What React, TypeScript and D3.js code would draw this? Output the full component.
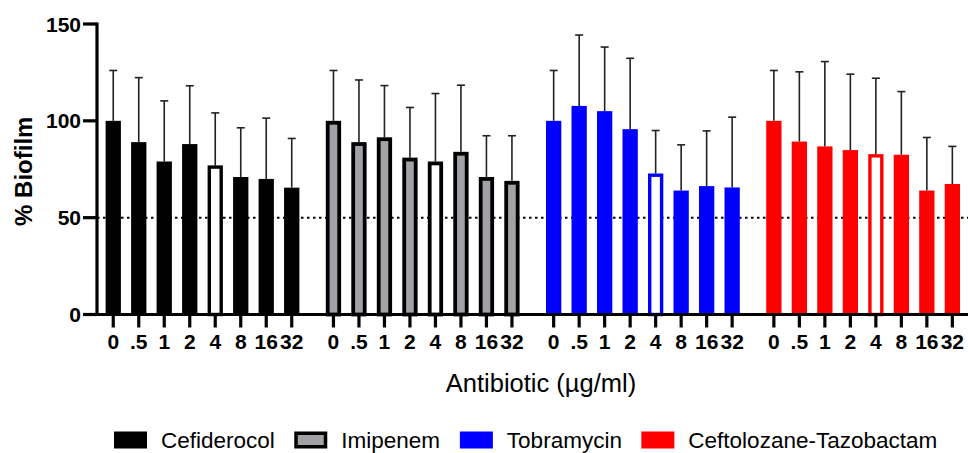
import * as d3 from "d3";
import React, { useMemo } from "react";

const drugs = ["Cefiderocol", "Imipenem", "Tobramycin", "Ceftolozane-Tazobactam"];
const concentrations = ["0", ".5", "1", "2", "4", "8", "16", "32"];

// mean % biofilm per concentration, one list per drug
const cefiderocolMean = [100, 89, 79, 88, 77, 71, 70, 65.5];
const imipenemMean = [100, 89, 91.5, 81, 79, 84, 71, 69];
const tobramycinMean = [100, 107.7, 105, 95.7, 72.8, 64, 66.3, 65.6];
const ceftolozaneMean = [100, 89.3, 86.8, 84.9, 82.8, 82.5, 64, 67.4];

// standard deviation (upper error bar only)
const cefiderocolSd = [26, 33.3, 31.3, 30.1, 27.1, 25.4, 31.4, 25.4];
const imipenemSd = [26, 32.1, 26.7, 25.9, 35.1, 34.4, 21.3, 23.3];
const tobramycinSd = [26, 36.6, 33.1, 36.6, 22.2, 23.6, 28.5, 36.3];
const ceftolozaneSd = [26, 36, 43.8, 39.2, 39.2, 32.6, 27.4, 19.4];

const fills = ["#000000", "#a2a2a6", "#0000ff", "#ff0000"];
const borders = ["#000000", "#000000", "#0000ff", "#ff0000"];
const hollowConc = "4";

const yTicks = [0, 50, 100, 150];
const refLine = 50;

const W = 968;
const H = 453;
const FONT = "'Liberation Sans', Arial, Helvetica, sans-serif";

const means = [cefiderocolMean, imipenemMean, tobramycinMean, ceftolozaneMean];
const sds = [cefiderocolSd, imipenemSd, tobramycinSd, ceftolozaneSd];

function textWidth(text: string, font: string) {
  const ctx = document.createElement("canvas").getContext("2d");
  if (!ctx) return text.length * 11;
  ctx.font = font;
  return ctx.measureText(text).width;
}

export default function App() {
  const x0 = 97;
  const y0 = 314.5;

  const y = d3.scaleLinear().domain([0, 150]).range([y0, 24]);

  const groupX = d3
    .scaleBand<string>()
    .domain(drugs)
    .range([105.6, 960])
    .paddingInner(0.12)
    .paddingOuter(0);

  const barX = d3
    .scaleBand<string>()
    .domain(concentrations)
    .range([0, groupX.bandwidth()])
    .paddingInner(0.4)
    .paddingOuter(0);

  const bars = useMemo(
    () =>
      drugs.flatMap((drug, di) =>
        concentrations.map((c, ci) => ({
          drug,
          di,
          c,
          mean: means[di][ci],
          sd: sds[di][ci],
          x: (groupX(drug) ?? 0) + (barX(c) ?? 0),
        }))
      ),
    []
  );

  const bw = barX.bandwidth();

  // legend layout
  const legendFont = `22px ${FONT}`;
  const legendItems = useMemo(() => {
    let cx = 114;
    return drugs.map((d, i) => {
      const item = { d, i, x: cx };
      cx += 33 + 14 + textWidth(d, legendFont) + 22;
      return item;
    });
  }, []);

  return (
    <svg
      width={W}
      height={H}
      style={{ position: "absolute", left: 0, top: 0, background: "#fff" }}
      fontFamily={FONT}
    >
      {/* reference line */}
      <line
        x1={x0}
        x2={W}
        y1={y(refLine)}
        y2={y(refLine)}
        stroke="#000"
        strokeWidth={2}
        strokeDasharray="2.5 3.5"
      />

      {/* error bars */}
      {bars.map((b) => {
        const cx = b.x + bw / 2;
        return (
          <g key={`e-${b.drug}-${b.c}`} stroke="#222" strokeWidth={1.6}>
            <line x1={cx} x2={cx} y1={y(b.mean)} y2={y(b.mean + b.sd)} />
            <line x1={cx - 4} x2={cx + 4} y1={y(b.mean + b.sd)} y2={y(b.mean + b.sd)} />
          </g>
        );
      })}

      {/* bars */}
      {bars.map((b) => {
        const hollow = b.c === hollowConc;
        const outlined = hollow || b.di === 1;
        const sw = b.di === 1 ? 3.8 : 3.4;
        if (!outlined) {
          return (
            <rect
              key={`b-${b.drug}-${b.c}`}
              x={b.x}
              y={y(b.mean)}
              width={bw}
              height={y0 - y(b.mean)}
              fill={fills[b.di]}
            />
          );
        }
        return (
          <rect
            key={`b-${b.drug}-${b.c}`}
            x={b.x + sw / 2}
            y={y(b.mean) + sw / 2}
            width={bw - sw}
            height={y0 - y(b.mean) - sw / 2}
            fill={hollow ? "#fff" : fills[b.di]}
            stroke={borders[b.di]}
            strokeWidth={sw}
          />
        );
      })}

      {/* y axis */}
      <line x1={x0} x2={x0} y1={y(150) - 1.5} y2={y0 + 1.5} stroke="#000" strokeWidth={3.2} />
      {yTicks.map((t) => (
        <g key={`yt-${t}`}>
          <line x1={x0 - 14} x2={x0} y1={y(t)} y2={y(t)} stroke="#000" strokeWidth={3.2} />
          <text
            x={x0 - 16}
            y={y(t)}
            dy="0.36em"
            textAnchor="end"
            fontSize={21}
            fontWeight="bold"
          >
            {t}
          </text>
        </g>
      ))}
      <text
        transform={`translate(32, ${(y(150) + y0) / 2 + 2}) rotate(-90)`}
        textAnchor="middle"
        fontSize={24}
        fontWeight="bold"
      >
        % Biofilm
      </text>

      {/* x axis */}
      <line x1={x0 - 1.5} x2={W} y1={y0} y2={y0} stroke="#000" strokeWidth={3.2} />
      {bars.map((b) => {
        const cx = b.x + bw / 2;
        return (
          <g key={`xt-${b.drug}-${b.c}`}>
            <line x1={cx} x2={cx} y1={y0} y2={y0 + 13} stroke="#000" strokeWidth={3.2} />
            <text x={cx} y={348.5} textAnchor="middle" fontSize={21} fontWeight="bold">
              {b.c}
            </text>
          </g>
        );
      })}
      <text x={541} y={392} textAnchor="middle" fontSize={25.5}>
        Antibiotic (µg/ml)
      </text>

      {/* legend */}
      {legendItems.map((it) => (
        <g key={`lg-${it.d}`}>
          {it.i === 1 ? (
            <rect
              x={it.x + 1.75}
              y={431.5 + 1.75}
              width={33 - 3.5}
              height={17 - 3.5}
              fill={fills[it.i]}
              stroke="#000"
              strokeWidth={3.5}
            />
          ) : (
            <rect x={it.x} y={431.5} width={33} height={17} fill={fills[it.i]} />
          )}
          <text x={it.x + 47} y={448} fontSize={22.5}>
            {it.d}
          </text>
        </g>
      ))}
    </svg>
  );
}
